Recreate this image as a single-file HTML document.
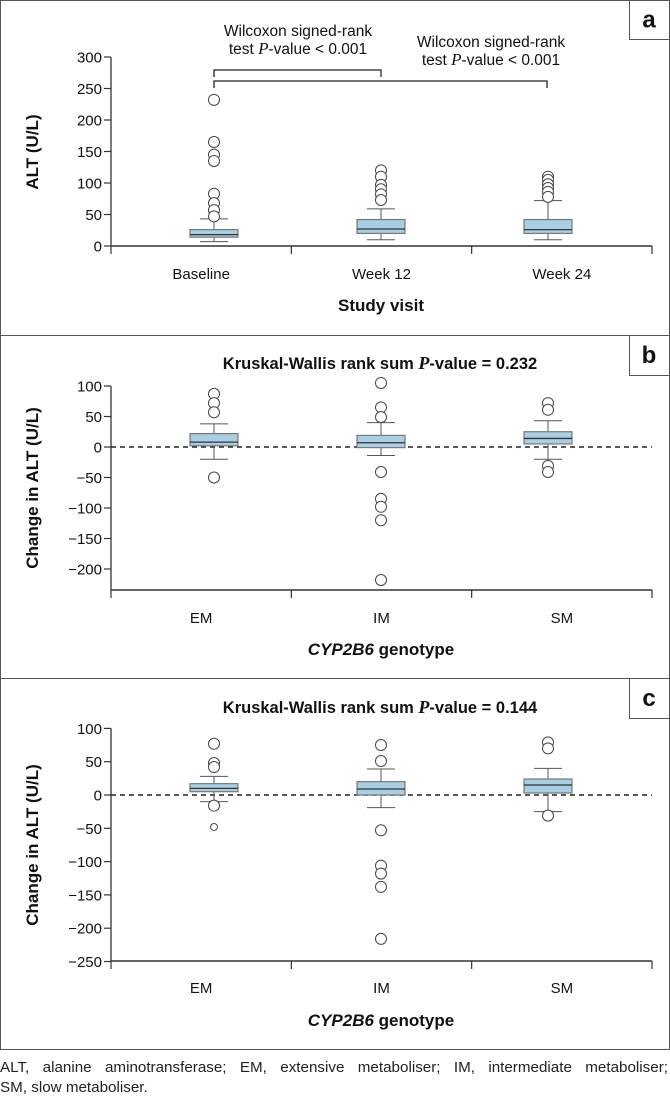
<!DOCTYPE html>
<html><head><meta charset="utf-8">
<style>
html,body{margin:0;padding:0;background:#fff;}
body{width:670px;height:1098px;position:relative;overflow:hidden;font-family:"Liberation Sans",sans-serif;}
svg text{font-family:"Liberation Sans",sans-serif;fill:#111;}
#caption{position:absolute;left:0;top:1058px;width:668px;font-size:15.2px;line-height:20px;color:#222;font-family:"Liberation Sans",sans-serif;}
#caption .l1{text-align:justify;text-align-last:justify;white-space:nowrap;}
</style></head>
<body>
<svg id="fig" width="670" height="1058" viewBox="0 0 670 1058" xmlns="http://www.w3.org/2000/svg"></svg>
<div id="caption"><div class="l1" style="white-space:normal">ALT, alanine aminotransferase; EM, extensive metaboliser; IM, intermediate metaboliser;</div><div>SM, slow metaboliser.</div></div>
<script>
// Panel a data
const catsA = ["Baseline","Week 12","Week 24"];
const lowA = [7,10,10];
const q1A = [14,20,20];
const medA = [18,27,26];
const q3A = [26,42,42];
const highA = [43,59,72];
const outA = [[232,165,145,135,83,68,57,47],[120,110,97,90,82,73],[110,105,98,92,86,78]];
const ticksA = [0,50,100,150,200,250,300];
// Panel b data
const catsB = ["EM","IM","SM"];
const lowB = [-20,-14,-20];
const q1B = [2,-1,5];
const medB = [8,7,14];
const q3B = [22,19,25];
const highB = [38,40,43];
const outB = [[87,72,57,-50],[105,65,49,-41,-85,-98,-120,-218],[72,61,-31,-41]];
const ticksB = [100,50,0,-50,-100,-150,-200];
// Panel c data
const catsC = ["EM","IM","SM"];
const lowC = [-10,-19,-25];
const q1C = [5,0,3];
const medC = [10,9,15];
const q3C = [17,20,24];
const highC = [28,39,40];
const outC = [[77,48,42,-16,-48],[75,51,-53,-106,-118,-138,-216],[79,70,-31]];
const ticksC = [100,50,0,-50,-100,-150,-200,-250];

const NS="http://www.w3.org/2000/svg";
const svg=document.getElementById('fig');
function el(tag,attrs,parent){const e=document.createElementNS(NS,tag);for(const k in attrs)e.setAttribute(k,attrs[k]);(parent||svg).appendChild(e);return e;}

function panel(o){
  const g=el('g',{});
  
  
  const fr=el('rect',{x:0.5,y:o.top+0.5,width:669,height:o.bottom-o.top,fill:'none',stroke:'#555','stroke-width':1},g);
  
  
  const lb=el('rect',{x:629.5,y:o.top+0.5,width:40,height:o.lblH,fill:'#fff',stroke:'#555','stroke-width':1},g);
  
  
  const lt=el('text',{x:649,y:o.top+o.lblH/2+8,'text-anchor':'middle','font-size':24,'font-weight':'bold'},g);
  lt.textContent=o.letter;
  
  
  const yS=v=>o.y0-(v-o.vRef)*o.k;
  const X0=111,X1=652;
  const ya=el('line',{x1:X0,y1:yS(o.ticks.reduce((a,b)=>Math.max(a,b))),x2:X0,y2:o.axisY,stroke:'#333','stroke-width':1.3},g);
  
  
  o.ticks.forEach(t=>{
    el('line',{x1:X0-7,y1:yS(t),x2:X0,y2:yS(t),stroke:'#333','stroke-width':1.2},g);
    const tx=el('text',{x:X0-9,y:yS(t)+5.5,'text-anchor':'end','font-size':15},g);
    tx.textContent=(t<0?'\u2212'+(-t):String(t));
    
    
  });
  const xa=el('line',{x1:X0,y1:o.axisY,x2:X1,y2:o.axisY,stroke:'#333','stroke-width':1.5},g);
  
  
  const cw=(X1-X0)/o.cats.length;
  for(let i=0;i<=o.cats.length;i++){el('line',{x1:X0+cw*i,y1:o.axisY,x2:X0+cw*i,y2:o.axisY+8,stroke:'#333','stroke-width':1.2},g);}
  if(o.zero){
    const zl=el('line',{x1:X0,y1:yS(0),x2:X1,y2:yS(0),stroke:'#222','stroke-width':1.4,'stroke-dasharray':'5,4'},g);
    
    
  }
  o.cats.forEach((c,i)=>{
    const lx=X0+cw*(i+0.5);
    const cx=o.boxX[i];
    const t=el('text',{x:lx,y:o.catY,'text-anchor':'middle','font-size':15},g);
    t.textContent=c;
    
    
    const bg=el('g',{},g);
    
    
    const hw=24,cap=14;
    el('line',{x1:cx,y1:yS(o.high[i]),x2:cx,y2:yS(o.q3[i]),stroke:'#555','stroke-width':1},bg);
    el('line',{x1:cx,y1:yS(o.low[i]),x2:cx,y2:yS(o.q1[i]),stroke:'#555','stroke-width':1},bg);
    el('line',{x1:cx-cap,y1:yS(o.high[i]),x2:cx+cap,y2:yS(o.high[i]),stroke:'#555','stroke-width':1},bg);
    el('line',{x1:cx-cap,y1:yS(o.low[i]),x2:cx+cap,y2:yS(o.low[i]),stroke:'#555','stroke-width':1},bg);
    el('rect',{x:cx-hw,y:yS(o.q3[i]),width:hw*2,height:Math.max(1,yS(o.q1[i])-yS(o.q3[i])),fill:'#a9cfe4',stroke:'#777','stroke-width':1.2},bg);
    el('line',{x1:cx-hw,y1:yS(o.med[i]),x2:cx+hw,y2:yS(o.med[i]),stroke:'#333','stroke-width':1.3},bg);
    o.out[i].forEach((v,j)=>{
      const small=(o.letter==='c'&&i===0&&j===o.out[i].length-1);
      const cc=el('circle',{cx:cx,cy:yS(v),r:small?3.5:5.5,fill:'#fff',stroke:'#444','stroke-width':1},bg);
      
      
    });
  });
  const yt=el('text',{x:0,y:0,'text-anchor':'middle','font-size':17,'font-weight':'bold',transform:`translate(${o.yTitleX},${o.yTitleY}) rotate(-90)`},g);
  yt.textContent=o.yTitle;
  
  
  const xt=el('text',{x:381,y:o.xTitleY,'text-anchor':'middle','font-size':17,'font-weight':'bold'},g);
  xt.innerHTML=o.xTitle;
  
  
  if(o.title){
    const tt=el('text',{x:380,y:o.titleY,'text-anchor':'middle','font-size':16.5,'font-weight':'bold'},g);
    tt.innerHTML='Kruskal-Wallis rank sum <tspan font-family="Liberation Serif, serif" font-style="italic" font-size="18">P</tspan>-value = '+o.title;
    
    
  }
  return {g,yS};
}

const pa=panel({letter:'a',top:0,bottom:335,lblH:39,cats:catsA,low:lowA,q1:q1A,med:medA,q3:q3A,high:highA,out:outA,ticks:ticksA,
  vRef:0,y0:246,k:0.63,axisY:246,boxX:[214,381,548],catY:279,yTitle:'ALT (U/L)',yTitleX:38,yTitleY:152,xTitle:'Study visit',xTitleY:311,zero:false});
[[214,381,70,77],[214,547,81,88]].forEach((b,i)=>{
  const p=el('path',{d:`M${b[0]},${b[3]} V${b[2]} H${b[1]} V${b[3]}`,fill:'none',stroke:'#222','stroke-width':1.3},pa.g);
  
  
});
[[298,36,54],[491,47,65]].forEach(a=>{
  const t1=el('text',{x:a[0],y:a[1],'text-anchor':'middle','font-size':15.5},pa.g);
  t1.textContent='Wilcoxon signed-rank';
  
  
  const t2=el('text',{x:a[0],y:a[2],'text-anchor':'middle','font-size':15.5},pa.g);
  t2.innerHTML='test <tspan font-family="Liberation Serif, serif" font-style="italic" font-size="17">P</tspan>-value &lt; 0.001';
  
  
});

panel({letter:'b',top:335,bottom:678,lblH:40,cats:catsB,low:lowB,q1:q1B,med:medB,q3:q3B,high:highB,out:outB,ticks:ticksB,
  vRef:0,y0:447,k:0.61,axisY:590,boxX:[214,381,548],catY:623,yTitle:'Change in ALT (U/L)',yTitleX:38,yTitleY:488,
  xTitle:'<tspan font-style="italic">CYP2B6</tspan> genotype',xTitleY:655,zero:true,title:'0.232',titleY:369});

panel({letter:'c',top:678,bottom:1049,lblH:40,cats:catsC,low:lowC,q1:q1C,med:medC,q3:q3C,high:highC,out:outC,ticks:ticksC,
  vRef:0,y0:795,k:0.666,axisY:961,boxX:[214,381,548],catY:993,yTitle:'Change in ALT (U/L)',yTitleX:38,yTitleY:845,
  xTitle:'<tspan font-style="italic">CYP2B6</tspan> genotype',xTitleY:1026,zero:true,title:'0.144',titleY:713});
</script>
</body></html>
